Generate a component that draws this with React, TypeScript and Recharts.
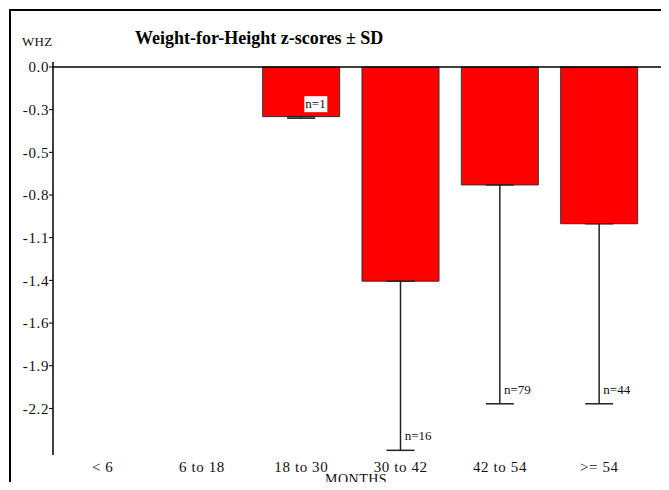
import { ComposedChart, Bar, ErrorBar, Scatter, XAxis, YAxis, ReferenceLine } from "recharts";

const categories = ["< 6", "6 to 18", "18 to 30", "30 to 42", "42 to 54", ">= 54"];
const means = [null, null, -0.32, -1.38, -0.76, -1.01];
const sds = [null, null, 0.01, 1.09, 1.41, 1.16];
const counts = [null, null, 1, 16, 79, 44];

const yTicks = [0, -0.275, -0.55, -0.825, -1.1, -1.375, -1.65, -1.925, -2.2];
const yTickLabels = ["0.0", "-0.3", "-0.5", "-0.8", "-1.1", "-1.4", "-1.6", "-1.9", "-2.2"];

const data = categories.map((cat, i) => {
  const m = means[i];
  const sd = sds[i];
  return {
    cat,
    mean: m,
    err: sd == null ? null : [sd, 0],
    lower: m == null || sd == null ? null : m - sd,
    n: counts[i],
  };
});

const FONT = "'Liberation Serif', 'Times New Roman', serif";

const CountLabel = (props: any) => {
  const { cx, cy, payload } = props;
  if (payload == null || payload.n == null || cx == null || cy == null) return null;
  const text = `n=${payload.n}`;
  const w = text.length * 7 + 2;
  return (
    <g>
      <rect x={cx + 3} y={cy - 22} width={w} height={16} fill="#fff" />
      <text x={cx + 4} y={cy - 10} fontSize={13} fontFamily={FONT} fill="#111">
        {text}
      </text>
    </g>
  );
};

const tickStyle = { fontSize: 15, fontFamily: FONT, fill: "#111", letterSpacing: 0.6 };

const App = () => {
  return (
    <div style={{ position: "relative", width: 669, height: 490, margin: -8, background: "#fff", overflow: "hidden" }}>
      <div style={{ position: "absolute", left: 0, top: 0 }}>
        <ComposedChart width={669} height={490} data={data} margin={{ top: 62, right: 6, bottom: 0, left: 8 }}>
          <XAxis
            dataKey="cat"
            axisLine={false}
            tickLine={false}
            interval={0}
            height={35}
            tickSize={4}
            padding={{ left: 0, right: 14 }}
            tick={tickStyle}
          />
          <YAxis
            width={45}
            domain={[-2.5, 0.032]}
            ticks={yTicks}
            interval={0}
            tickSize={4}
            tickMargin={0}
            axisLine={{ stroke: "#000", strokeWidth: 1.5 }}
            tickLine={{ stroke: "#000" }}
            tick={tickStyle}
            tickFormatter={(v: number) => yTickLabels[yTicks.indexOf(v)] ?? String(v)}
          />
          <ReferenceLine y={0} stroke="#000" strokeWidth={1.5} />
          <Bar dataKey="mean" fill="#ff0000" stroke="#333" strokeWidth={1} barSize={77} isAnimationActive={false}>
            <ErrorBar dataKey="err" width={14} stroke="#222" strokeWidth={1.5} direction="y" />
          </Bar>
          <Scatter dataKey="lower" shape={CountLabel} isAnimationActive={false} />
        </ComposedChart>
      </div>
      <div style={{ position: "absolute", left: 0, top: 1, width: 669, height: 3, background: "#000" }} />
      <div style={{ position: "absolute", left: 9, top: 9, width: 660, height: 2, background: "#000" }} />
      <div style={{ position: "absolute", left: 9, top: 9, width: 2, height: 481, background: "#000" }} />
      <div style={{ position: "absolute", left: 22, top: 34, fontFamily: FONT, fontSize: 13, color: "#111", letterSpacing: 0.3 }}>WHZ</div>
      <div style={{ position: "absolute", left: 135, top: 28, whiteSpace: "nowrap", fontFamily: FONT, fontSize: 18, fontWeight: "bold", color: "#000" }}>
        Weight-for-Height z-scores ± SD
      </div>
      <div style={{ position: "absolute", left: 325, top: 472, lineHeight: "16px", fontFamily: FONT, fontSize: 14, color: "#111", letterSpacing: 0.5 }}>MONTHS</div>
    </div>
  );
};

export default App;
